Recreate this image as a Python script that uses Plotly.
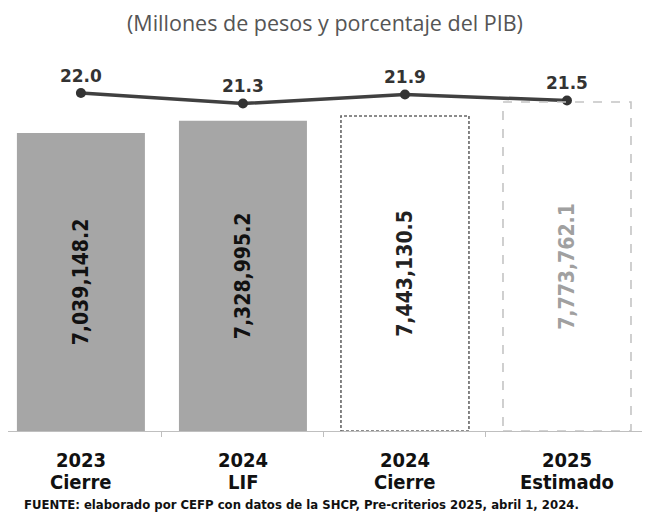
import plotly.graph_objects as go

# ---- data ----
years = ["2023", "2024", "2024", "2025"]
stages = ["Cierre", "LIF", "Cierre", "Estimado"]
categories = [f"{y} {s}" for y, s in zip(years, stages)]
amounts = [7039148.2, 7328995.2, 7443130.5, 7773762.1]
pct_pib = [22.0, 21.3, 21.9, 21.5]
title_text = "(Millones de pesos y porcentaje del PIB)"
source_text = "FUENTE: elaborado por CEFP con datos de la SHCP, Pre-criterios 2025, abril 1, 2024."

NARROW = "Liberation Sans Narrow, DejaVu Sans Condensed, Arial Narrow, sans-serif"
BAR_W = 0.79
OFF = 8  # page body margin in the browser
W, H = 650 - OFF, 514 - OFF

bar_fill = ["#A6A6A6", "#A6A6A6", "rgba(255,255,255,0)", "rgba(255,255,255,0)"]
label_col = ["#111111", "#111111", "#222222", "#A0A0A0"]
amount_text = [f"{v:,.1f}" for v in amounts]

fig = go.Figure()
fig.add_trace(go.Bar(
    x=categories, y=amounts, width=BAR_W,
    marker=dict(color=bar_fill, line=dict(width=0)),
    text=amount_text, textposition="inside", insidetextanchor="middle",
    textangle=-90,
    textfont=dict(family=NARROW, size=21, color=label_col, weight="bold"),
    hoverinfo="skip", showlegend=False,
))

# dashed outlines for projected bars
border_styles = {2: ("#666666", "3px,2px", 1.6), 3: ("#C4C4C4", "dash", 1.6)}
for i, (col, dash, w) in border_styles.items():
    fig.add_shape(type="rect", xref="x", yref="y",
                  x0=i - BAR_W / 2, x1=i + BAR_W / 2, y0=0, y1=amounts[i],
                  line=dict(color=col, dash=dash, width=w), layer="above")

fig.add_trace(go.Scatter(
    x=categories, y=pct_pib, yaxis="y2", mode="lines+markers+text",
    line=dict(color="#404040", width=3.5),
    marker=dict(color="#333333", size=10),
    text=[f"{v:.1f}" for v in pct_pib], textposition="top center",
    textfont=dict(family="DejaVu Sans", size=17, color="#333333", weight="bold"),
    hoverinfo="skip", showlegend=False, cliponaxis=False,
))

# reference pixel positions (in the 650x514 screenshot)
PLOT_TOP, PLOT_BOTTOM = 60, 431
PLOT_LEFT, PLOT_RIGHT = 8, 648
plot_h = PLOT_BOTTOM - PLOT_TOP
plot_w = PLOT_RIGHT - PLOT_LEFT

def paper_y(px):
    return (PLOT_BOTTOM - px) / plot_h

def paper_x(px):
    return (px - PLOT_LEFT) / plot_w

annotations = []
for c, y, s in zip(categories, years, stages):
    annotations.append(dict(x=c, xref="x", y=paper_y(460), yref="paper",
                            text=y, showarrow=False, yanchor="middle",
                            font=dict(family=NARROW, size=20, color="#111111", weight="bold")))
    annotations.append(dict(x=c, xref="x", y=paper_y(482), yref="paper",
                            text=s, showarrow=False, yanchor="middle",
                            font=dict(family=NARROW, size=20, color="#111111", weight="bold")))
annotations.append(dict(x=paper_x(22), xref="paper", y=paper_y(505), yref="paper",
                        text=source_text, showarrow=False, xanchor="left", yanchor="middle",
                        font=dict(family="DejaVu Sans", size=11.7, color="#111111", weight="bold")))
annotations.append(dict(x=paper_x(325), xref="paper", y=paper_y(22), yref="paper",
                        text=title_text, showarrow=False, xanchor="center", yanchor="middle",
                        font=dict(family="Open Sans", size=21.5, color="#555555")))

fig.update_layout(
    width=W, height=H,
    margin=dict(l=PLOT_LEFT - OFF, r=650 - PLOT_RIGHT,
                t=PLOT_TOP - OFF, b=514 - PLOT_BOTTOM, autoexpand=False),
    paper_bgcolor="white", plot_bgcolor="white",
    xaxis=dict(type="category", showticklabels=False, showline=True,
               linecolor="#BFBFBF", linewidth=1.2, ticks="outside",
               tickson="boundaries", ticklen=5, tickcolor="#BFBFBF",
               showgrid=False, zeroline=False, range=[-0.45, 3.5]),
    yaxis=dict(range=[0, 8765000], visible=False, showgrid=False, zeroline=False),
    yaxis2=dict(range=[-0.53, 24.2], overlaying="y", visible=False,
                showgrid=False, zeroline=False),
    annotations=annotations,
    bargap=0.21,
)

fig.write_html("out.html")
